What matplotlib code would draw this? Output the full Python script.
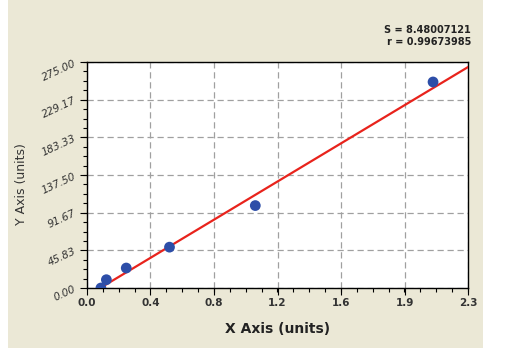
import numpy as np
import matplotlib
matplotlib.use('Agg')
import matplotlib.pyplot as plt
from matplotlib.patches import Rectangle
from matplotlib.ticker import AutoMinorLocator

############################################################
# Data

conc = [0.084, 0.117, 0.237, 0.498, 1.016, 2.089]
signal = [0.0, 10.1, 24.3, 49.7, 100.3, 250.7]

# fitted line (slope, intercept) and its x range
fit_slope = 121.1
fit_intercept = -9.7
fit_x = [0.070, 2.3]

x_ticks = [0.0, 0.3833, 0.7667, 1.15, 1.5333, 1.9167, 2.3]
x_tick_labels = ['0.0', '0.4', '0.8', '1.2', '1.6', '1.9', '2.3']
y_ticks = [0.0, 45.83, 91.67, 137.50, 183.33, 229.17, 275.00]
y_tick_labels = ['0.00', '45.83', '91.67', '137.50', '183.33', '229.17', '275.00']

stat_s = 'S = 8.48007121'
stat_r = 'r = 0.99673985'

############################################################
# Plotting

beige = '#ebe8d6'
fig = plt.figure(figsize=(5.07, 3.55), dpi=100)
fig.patch.set_facecolor('white')
fig.patches.append(Rectangle((8 / 507, 1 - 348 / 355), (483 - 8) / 507, 348 / 355,
                             transform=fig.transFigure, facecolor=beige, edgecolor='none', zorder=-10))

ax = fig.add_axes([87 / 507, 1 - 288 / 355, (468 - 87) / 507, (288 - 62) / 355])
ax.set_facecolor('white')

fx = np.array(fit_x)
ax.plot(fx, fit_slope * fx + fit_intercept, color='#e8231c', lw=1.6, zorder=3)
ax.scatter(conc, signal, s=60, color='#2d4ea8', edgecolors='none', zorder=4)

ax.set_xlim(0, 2.3)
ax.set_ylim(0, 275)
ax.set_xticks(x_ticks)
ax.set_xticklabels(x_tick_labels, fontsize=7.5, fontweight='bold', color='#333333')
ax.set_yticks(y_ticks)
ax.set_yticklabels(y_tick_labels, fontsize=7.5, style='italic', color='#333333', rotation=25)
ax.xaxis.set_minor_locator(AutoMinorLocator(4))
ax.yaxis.set_minor_locator(AutoMinorLocator(4))
ax.tick_params(which='major', direction='out', length=5, width=0.8, color='black', pad=2)
ax.tick_params(which='minor', direction='out', length=3, width=0.8, color='black')

ax.grid(True, which='major', color='#a0a0a0', linestyle=(0, (5, 3)), lw=0.9)
ax.set_axisbelow(True)
for sp in ax.spines.values():
    sp.set_color('black')
    sp.set_linewidth(1.0)

ax.set_xlabel('X Axis (units)', fontsize=10, fontweight='bold', color='#222222', labelpad=10)
ax.set_ylabel('Y Axis (units)', fontsize=9, color='#333333')
ax.yaxis.set_label_coords(-0.155, 0.46)

fig.text(471 / 507, 1 - 30 / 355, stat_s, ha='right', va='center', fontsize=7, fontweight='bold', color='#222222')
fig.text(471 / 507, 1 - 42 / 355, stat_r, ha='right', va='center', fontsize=7, fontweight='bold', color='#222222')

fig.savefig('out.png', dpi=100, facecolor=fig.get_facecolor())
